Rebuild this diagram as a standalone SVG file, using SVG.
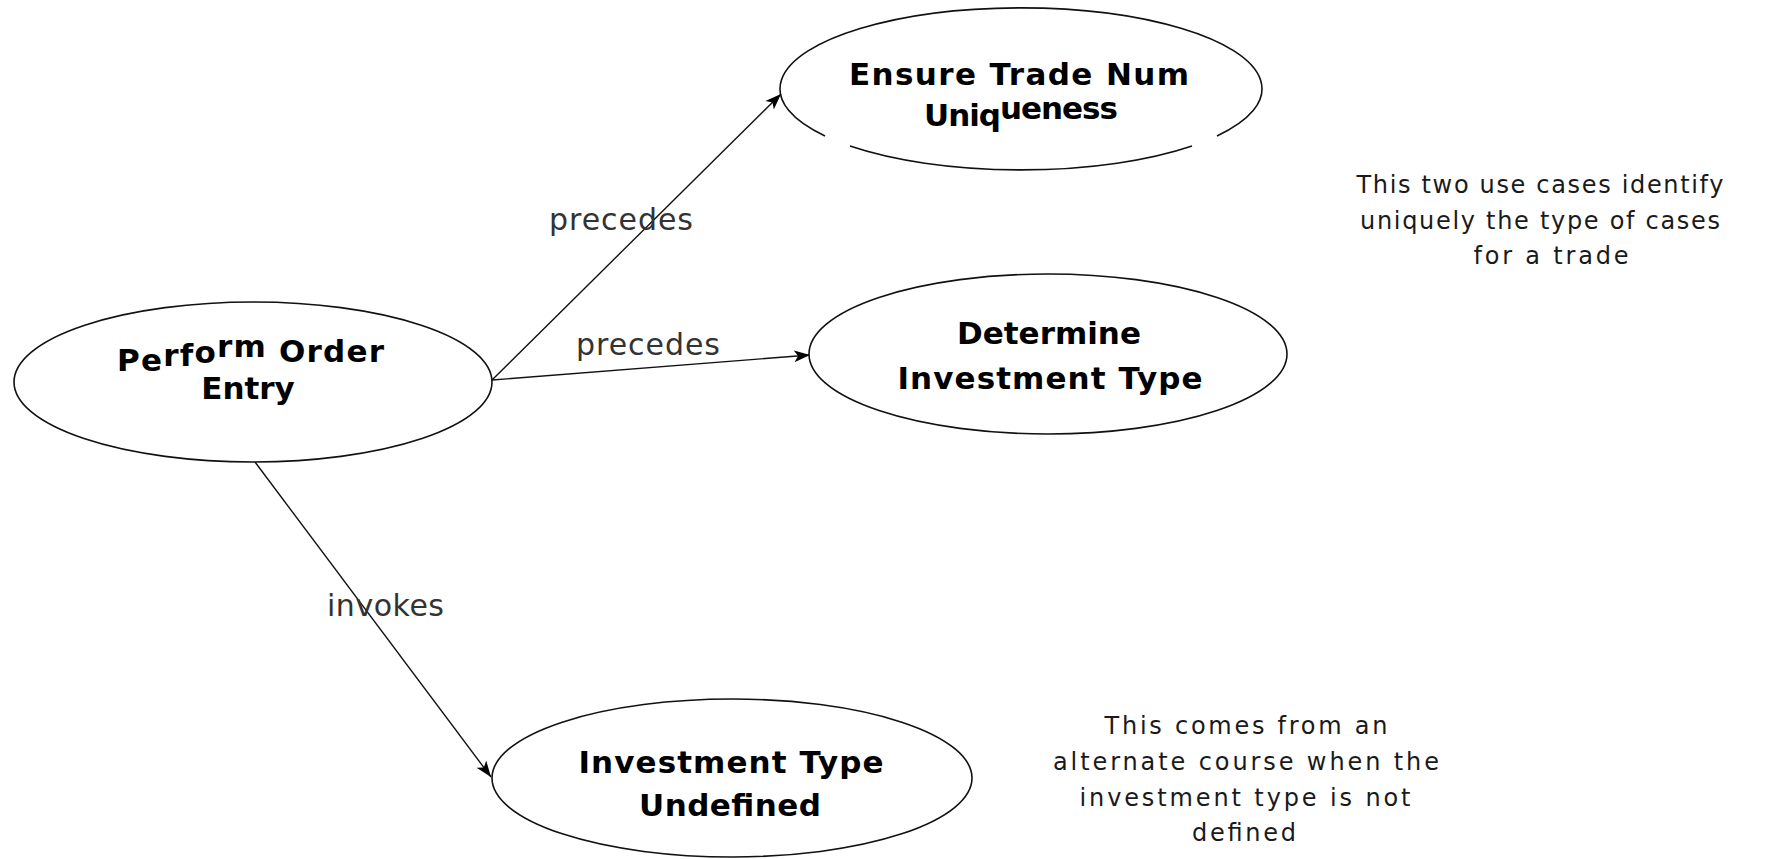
<svg xmlns="http://www.w3.org/2000/svg" width="1771" height="859" viewBox="0 0 1771 859">
<style>
.bg{fill:#fff}
.uc{fill:#fff;stroke:#111;stroke-width:1.6}
.ucp{fill:none;stroke:#111;stroke-width:1.6}
.lbl{font-family:"DejaVu Sans",sans-serif;font-weight:bold;font-size:31px;fill:#000;text-anchor:middle}
.lbs{font-family:"DejaVu Sans",sans-serif;font-weight:bold;font-size:31px;fill:#000}
.edge{fill:none;stroke:#111;stroke-width:1.4}
.el{font-family:"DejaVu Sans",sans-serif;font-size:30px;fill:#333}
.note{font-family:"DejaVu Sans",sans-serif;font-size:24px;fill:#1a1a1a;text-anchor:middle}
</style>
<defs>
<marker id="arr" markerUnits="userSpaceOnUse" markerWidth="18" markerHeight="14" refX="16" refY="7" orient="auto">
<path d="M0,1 L16,7 L0,13 L4,7 Z" fill="#000"/>
</marker>
</defs>
<rect class="bg" x="0" y="0" width="1771" height="859"/>

<g id="connectors">
<line class="edge" x1="492" y1="380" x2="781" y2="94" marker-end="url(#arr)"/>
<line class="edge" x1="492" y1="380" x2="810" y2="355" marker-end="url(#arr)"/>
<line class="edge" x1="255" y1="462" x2="491" y2="777" marker-end="url(#arr)"/>
<text class="el" x="549" y="230" textLength="144" lengthAdjust="spacing">precedes</text>
<text class="el" x="576" y="355" textLength="144" lengthAdjust="spacing">precedes</text>
<text class="el" x="327" y="616" textLength="117" lengthAdjust="spacing">invokes</text>
</g>

<g id="perform-order-entry">
<ellipse class="uc" cx="253" cy="382" rx="239" ry="80"/>
<text class="lbs" x="117" y="371" textLength="267" lengthAdjust="spacing"><tspan>Pe</tspan><tspan dy="-5">rf</tspan><tspan dy="-3">o</tspan><tspan dy="-6">rm</tspan><tspan dy="5"> Order</tspan></text>
<text class="lbl" x="248" y="399">Entry</text>
</g>

<g id="ensure-trade-num-uniqueness">
<path class="ucp" d="M850,146 A241,81 0 0 0 1192,146 M1217,136 A241,81 0 1 0 825,136"/>
<text class="lbl" x="1019" y="85" textLength="340" lengthAdjust="spacing">Ensure Trade Num</text>
<text class="lbs" x="924" y="126" textLength="194" lengthAdjust="spacing">Uniq<tspan dy="-7">ueness</tspan></text>
</g>

<g id="determine-investment-type">
<ellipse class="uc" cx="1048" cy="354" rx="239" ry="80"/>
<text class="lbl" x="1049" y="344">Determine</text>
<text class="lbl" x="1050" y="389" textLength="305" lengthAdjust="spacing">Investment Type</text>
</g>

<g id="investment-type-undefined">
<ellipse class="uc" cx="732" cy="778" rx="240" ry="79"/>
<text class="lbl" x="731" y="773" textLength="305" lengthAdjust="spacing">Investment Type</text>
<text class="lbl" x="730" y="816" textLength="182" lengthAdjust="spacing">Undefined</text>
</g>

<g id="note-unique">
<text class="note" x="1540" y="193" textLength="367" lengthAdjust="spacing">This two use cases identify</text>
<text class="note" x="1540" y="229" textLength="360" lengthAdjust="spacing">uniquely the type of cases</text>
<text class="note" x="1551" y="264" textLength="155" lengthAdjust="spacing">for a trade</text>
</g>

<g id="note-alternate">
<text class="note" x="1246" y="734" textLength="283" lengthAdjust="spacing">This comes from an</text>
<text class="note" x="1246" y="770" textLength="386" lengthAdjust="spacing">alternate course when the</text>
<text class="note" x="1245" y="806" textLength="331" lengthAdjust="spacing">investment type is not</text>
<text class="note" x="1244" y="841" textLength="104" lengthAdjust="spacing">defined</text>
</g>
</svg>
